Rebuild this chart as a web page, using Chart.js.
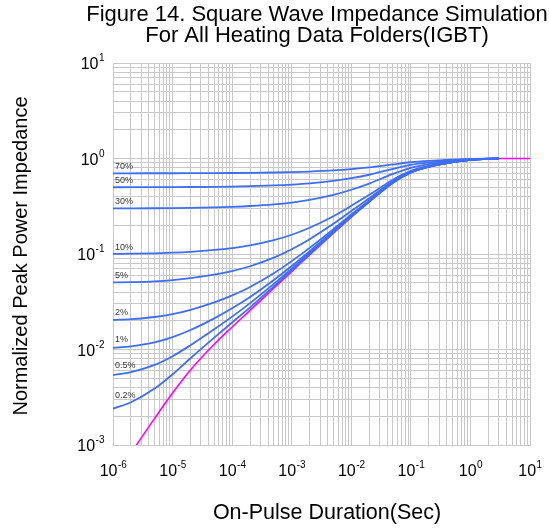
<!DOCTYPE html>
<html>
<head>
<meta charset="utf-8">
<script src="https://cdn.jsdelivr.net/npm/chart.js@4.4.1/dist/chart.umd.min.js"></script>
<style>
  body { margin: 0; background: #fff; }
  #box { width: 549px; height: 532px; }
</style>
</head>
<body>
<div id="box"><canvas id="graficoZth"></canvas></div>
<script>
// dados (duracao do pulso em segundos, impedancia normalizada)
const pulseDurations = [1e-6, 2e-6, 5e-6, 1e-5, 2e-5, 5e-5, 1e-4, 2e-4, 5e-4, 1e-3, 2e-3, 5e-3, 1e-2, 2e-2, 5e-2, 0.1, 0.2, 0.5, 1, 2, 3, 5, 10];

const singlePulse = [0.00043, 0.00082, 0.0019, 0.0035, 0.0061, 0.01135, 0.0172, 0.0257, 0.0438, 0.0655, 0.0979, 0.1652, 0.2438, 0.3516, 0.556, 0.713, 0.818, 0.914, 0.966, 0.993, 1, 1, 1];

const duty70 = [0.7001, 0.7002, 0.7006, 0.7011, 0.7018, 0.7034, 0.7052, 0.7077, 0.7131, 0.7197, 0.7294, 0.7496, 0.7731, 0.8055, 0.8668, 0.9139, 0.9454, 0.9742, 0.9898, 0.9979, 1, null, null];
const duty50 = [0.5002, 0.5004, 0.501, 0.5018, 0.5031, 0.5057, 0.5086, 0.5129, 0.5219, 0.5328, 0.549, 0.5826, 0.6219, 0.6758, 0.778, 0.8565, 0.909, 0.957, 0.983, 0.9965, 1, null, null];
const duty30 = [0.3003, 0.3006, 0.3013, 0.3025, 0.3043, 0.3079, 0.312, 0.318, 0.3307, 0.3459, 0.3685, 0.4156, 0.4707, 0.5461, 0.6892, 0.7991, 0.8726, 0.9398, 0.9762, 0.9951, 1, null, null];
const duty10 = [0.1004, 0.1007, 0.1017, 0.1032, 0.1055, 0.1102, 0.1155, 0.1231, 0.1394, 0.159, 0.1881, 0.2487, 0.3194, 0.4164, 0.6004, 0.7417, 0.8362, 0.9226, 0.9694, 0.9937, 1, null, null];
const duty5 = [0.0504, 0.0508, 0.0518, 0.0533, 0.0558, 0.0608, 0.0663, 0.0744, 0.0916, 0.1122, 0.143, 0.2069, 0.2816, 0.384, 0.5782, 0.7274, 0.8271, 0.9183, 0.9677, 0.9934, 1, null, null];
const duty2 = [0.0204, 0.0208, 0.0219, 0.0234, 0.026, 0.0311, 0.0369, 0.0452, 0.0629, 0.0842, 0.1159, 0.1819, 0.2589, 0.3646, 0.5649, 0.7187, 0.8216, 0.9157, 0.9667, 0.9931, 1, null, null];
const duty1 = [0.0104, 0.0108, 0.0119, 0.0135, 0.016, 0.0212, 0.027, 0.0354, 0.0534, 0.0748, 0.1069, 0.1735, 0.2514, 0.3581, 0.5604, 0.7159, 0.8198, 0.9149, 0.9663, 0.9931, 1, null, null];
const duty05 = [0.0054, 0.0058, 0.0069, 0.0085, 0.0111, 0.0163, 0.0221, 0.0306, 0.0486, 0.0702, 0.1024, 0.1694, 0.2476, 0.3548, 0.5582, 0.7144, 0.8189, 0.9143, 0.9662, 0.993, 1, null, null];
const duty02 = [0.0024, 0.0028, 0.0039, 0.0055, 0.0081, 0.0133, 0.0192, 0.0276, 0.0457, 0.0674, 0.0997, 0.1669, 0.2453, 0.3529, 0.5569, 0.7136, 0.8184, 0.914, 0.9661, 0.993, 1, null, null];

const dutyLabels = ['70%', '50%', '30%', '10%', '5%', '2%', '1%', '0.5%', '0.2%'];
const dutySeries = [duty70, duty50, duty30, duty10, duty5, duty2, duty1, duty05, duty02];

const xExponents = [-6, -5, -4, -3, -2, -1, 0, 1];
const yExponents = [-3, -2, -1, 0, 1];

const titleLines = ['Figure 14. Square Wave Impedance Simulation', 'For All Heating Data Folders(IGBT)'];
const xTitle = 'On-Pulse Duration(Sec)';
const yTitle = 'Normalized Peak Power Impedance';

const fonte = '"Liberation Sans", Arial, sans-serif';

function pontos(serie) {
    return pulseDurations.map(function (t, i) { return { x: t, y: serie[i] }; });
}

// linhas de grade 1..9 em cada decada
function gradeLog(scale) {
    var ticks = [];
    for (var e = Math.round(Math.log10(scale.min)); e < Math.round(Math.log10(scale.max)); e++) {
        for (var m = 1; m < 10; m++) ticks.push({ value: m * Math.pow(10, e) });
    }
    ticks.push({ value: scale.max });
    scale.ticks = ticks;
}

function potencia(ctx, exp, x, y, align) {
    ctx.font = '16px ' + fonte;
    var wb = ctx.measureText('10').width;
    ctx.font = '10px ' + fonte;
    var we = ctx.measureText(String(exp)).width;
    var sx = align === 'center' ? x - (wb + we) / 2 : x - (wb + we);
    ctx.textAlign = 'left';
    ctx.font = '16px ' + fonte;
    ctx.fillText('10', sx, y);
    ctx.font = '10px ' + fonte;
    ctx.fillText(String(exp), sx + wb + 0.5, y - 8);
}

var textos = {
    id: 'textos',
    afterDraw: function (chart) {
        var ctx = chart.ctx;
        var xs = chart.scales.x;
        var ys = chart.scales.y;
        var area = chart.chartArea;
        ctx.save();
        ctx.fillStyle = '#000';
        ctx.textBaseline = 'alphabetic';

        ctx.font = '22px ' + fonte;
        ctx.textAlign = 'center';
        ctx.fillText(titleLines[0], 317, 21);
        ctx.fillText(titleLines[1], 317, 42);

        xExponents.forEach(function (e) {
            potencia(ctx, e, xs.getPixelForValue(Math.pow(10, e)), 476, 'center');
        });
        yExponents.forEach(function (e) {
            potencia(ctx, e, 104, ys.getPixelForValue(Math.pow(10, e)) + 6, 'right');
        });

        ctx.font = '21.5px ' + fonte;
        ctx.textAlign = 'center';
        ctx.fillText(xTitle, 327, 519);

        ctx.save();
        ctx.translate(21, 256);
        ctx.rotate(-Math.PI / 2);
        ctx.font = '20px ' + fonte;
        ctx.textBaseline = 'middle';
        ctx.fillText(yTitle, 0, 0);
        ctx.restore();

        ctx.font = '9px ' + fonte;
        ctx.fillStyle = '#333';
        ctx.textAlign = 'left';
        dutyLabels.forEach(function (lab, i) {
            var v = dutySeries[i][1];
            ctx.fillText(lab, area.left + 2, ys.getPixelForValue(v) - 4);
        });
        ctx.restore();
    }
};

var datasets = dutySeries.map(function (serie, i) {
    return {
        label: dutyLabels[i],
        data: pontos(serie),
        borderColor: '#3d6ef5',
        borderWidth: 1.8,
        pointRadius: 0,
        cubicInterpolationMode: 'monotone'
    };
});
datasets.push({
    label: 'Single Pulse',
    data: pontos(singlePulse),
    borderColor: '#ff00ff',
    borderWidth: 1.6,
    pointRadius: 0,
    cubicInterpolationMode: 'monotone'
});

var contexto = document.getElementById('graficoZth').getContext('2d');

window.meuGrafico = new Chart(contexto, {
    type: 'line',
    data: { datasets: datasets },
    options: {
        responsive: true,
        maintainAspectRatio: false,
        animation: false,
        layout: { padding: { left: 113, right: 19, top: 63, bottom: 87 } },
        plugins: {
            legend: { display: false },
            tooltip: { enabled: false }
        },
        scales: {
            x: {
                type: 'logarithmic',
                min: 1e-6,
                max: 10,
                afterBuildTicks: gradeLog,
                grid: { color: '#c8c8c8', drawTicks: false },
                border: { color: '#c8c8c8' },
                ticks: { display: false }
            },
            y: {
                type: 'logarithmic',
                min: 1e-3,
                max: 10,
                afterBuildTicks: gradeLog,
                grid: { color: '#c8c8c8', drawTicks: false },
                border: { color: '#c8c8c8' },
                ticks: { display: false }
            }
        }
    },
    plugins: [textos]
});
</script>
</body>
</html>
